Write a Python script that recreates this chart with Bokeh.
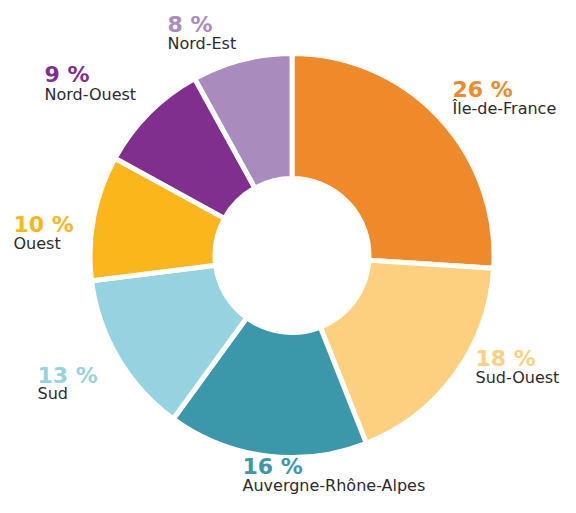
import math
from bokeh.plotting import figure
from bokeh.models import ColumnDataSource, Range1d
from bokeh.core.properties import value
from bokeh.embed import file_html
from bokeh.resources import INLINE

# ---- data ----
regions = ["Île-de-France", "Sud-Ouest", "Auvergne-Rhône-Alpes", "Sud", "Ouest", "Nord-Ouest", "Nord-Est"]
shares = [26, 18, 16, 13, 10, 9, 8]
colors = ["#EE8A29", "#FDD07F", "#3A98AA", "#95D3E0", "#FBB61B", "#812F8F", "#A98BBE"]

# ---- layout (picture pixel coords; y measured from top) ----
W, H = 560, 497
cx, cy = 291.5, 255
r_out, r_in = 202, 77
TXT_SHIFT = 8  # svg text renders a few px below the requested baseline
label_x = [452, 475, 242, 37, 13, 44, 167]
pct_base = [97, 366, 474, 383, 232, 82, 32]
name_base = [116, 385, 493, 401, 251, 102, 51]

def fy(y):
    return H - y

total = float(sum(shares))
starts, ends = [], []
a = math.pi / 2
for s in shares:
    starts.append(a)
    a -= 2 * math.pi * s / total
    ends.append(a)

p = figure(width=W, height=H, output_backend="svg", toolbar_location=None,
           x_range=Range1d(0, W), y_range=Range1d(0, H),
           min_border=0)
p.axis.visible = False
p.grid.visible = False
p.outline_line_color = None
p.background_fill_color = "white"
p.border_fill_color = "white"

src = ColumnDataSource(dict(start=starts, end=ends, color=colors))
p.annular_wedge(x=cx, y=fy(cy), inner_radius=r_in, outer_radius=r_out,
                start_angle="start", end_angle="end", direction="clock",
                fill_color="color", line_color="white", line_width=5, source=src)

lab = ColumnDataSource(dict(
    x=label_x,
    yp=[fy(v - TXT_SHIFT) for v in pct_base],
    yn=[fy(v - TXT_SHIFT) for v in name_base],
    pct=[f"{s} %" for s in shares],
    name=regions,
    color=colors,
))
p.text(x="x", y="yp", text="pct", source=lab, text_color="color",
       text_font=value("DejaVu Sans"), text_font_style="bold", text_font_size="22px",
       text_baseline="alphabetic", text_align="left")
p.text(x="x", y="yn", text="name", source=lab, text_color="#2B2B2B",
       text_font=value("DejaVu Sans"), text_font_size="16px",
       text_baseline="alphabetic", text_align="left")

open("out.html", "w").write(file_html(p, INLINE))
